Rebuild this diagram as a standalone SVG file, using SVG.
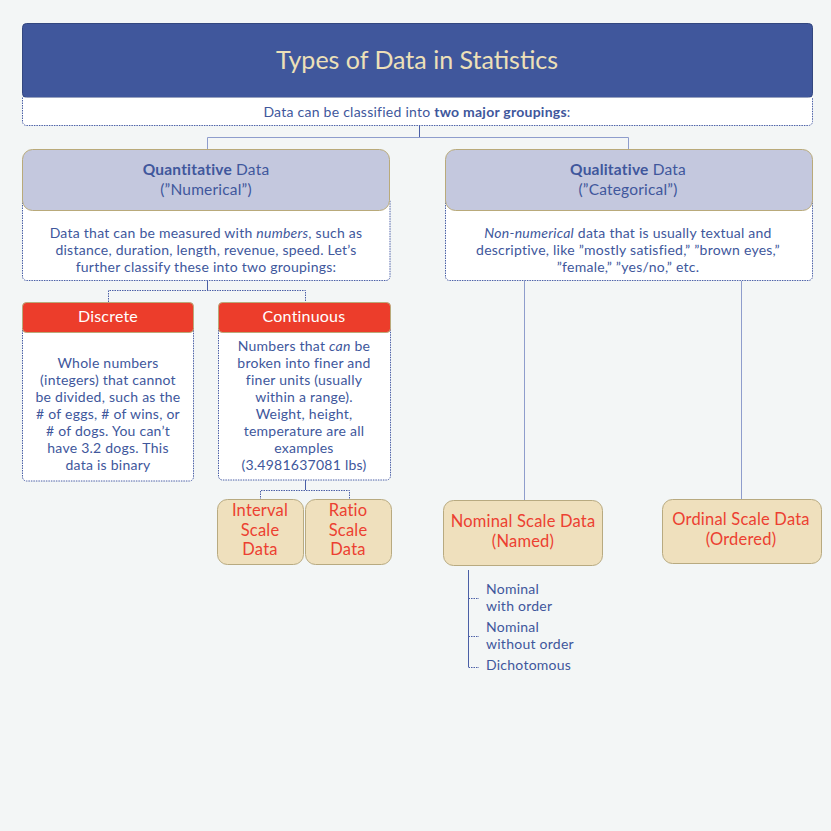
<svg xmlns="http://www.w3.org/2000/svg" width="831" height="831" viewBox="0 0 831 831">
<style>
text{font-family:Lato,"Noto Sans","Liberation Sans",sans-serif;text-anchor:middle}
.t{fill:#40579c;font-size:14px;letter-spacing:0.25px}
.h{fill:#40579c;font-size:15.5px;letter-spacing:0.2px}
.w{fill:#ffffff;font-size:16px;letter-spacing:0.2px}
.r{fill:#ec4031;font-size:16.5px;letter-spacing:0.2px}
.hdr{fill:#c4c8de;stroke:#b9aa7a;stroke-width:1}
.body{fill:#ffffff;stroke:#4a5fa6;stroke-width:1;stroke-dasharray:1.5 1}
.red{fill:#ec3d2b;stroke:#b9aa7a;stroke-width:1}
.tan{fill:#efe0bd;stroke:#b8aa80;stroke-width:1}
.c{fill:none;stroke:#4a5fa6;stroke-width:1}
.cd{fill:none;stroke:#4a5fa6;stroke-width:1;stroke-dasharray:1.5 1}
.cl{fill:none;stroke:#8e9dcc;stroke-width:1}
</style>
<rect width="831" height="831" fill="#f3f6f6"/>
<g id="connectors">
<path class="c" d="M419.5 125V137"/>
<path class="cl" d="M207.5 150V137.5H628.5V150"/>
<path class="c" d="M207.5 281V290"/>
<path class="cd" d="M108.5 302V290.5H305.5V302"/>
<path class="c" d="M305.5 480V490"/>
<path class="cd" d="M260.5 500V490.5H349.5V500"/>
<path class="cl" d="M524.5 281V500"/>
<path class="cl" d="M741.5 281V499"/>
<path class="c" d="M468.5 570V667"/>
<path class="cd" d="M468.5 598.5H479M468.5 636.5H479M468.5 667.5H479"/>
</g>
<g id="title">
<rect x="22.5" y="23.5" width="790" height="74" rx="4" fill="#40579c" stroke="#33477f"/>
<text x="417" y="69" style="fill:#ede0b8;font-size:25px">Types of Data in Statistics</text>
<path class="body" d="M22.5 97.5V121.5a4 4 0 0 0 4 4H808.5a4 4 0 0 0 4-4V97.5"/>
<text class="t" x="417" y="117">Data can be classified into <tspan font-weight="bold">two major groupings</tspan>:</text>
</g>
<g id="quantitative">
<path class="body" d="M22.5 200V276.5a4 4 0 0 0 4 4H386a4 4 0 0 0 4-4V200"/>
<rect class="hdr" x="22.5" y="149.5" width="367" height="61" rx="10"/>
<text class="h" x="206" y="175"><tspan font-weight="bold">Quantitative</tspan> Data</text>
<text class="h" x="206" y="195">(”Numerical”)</text>
<text class="t" x="206" y="238">Data that can be measured with <tspan font-style="italic">numbers</tspan>, such as</text>
<text class="t" x="206" y="255">distance, duration, length, revenue, speed.  Let’s</text>
<text class="t" x="206" y="272">further classify these into two groupings:</text>
</g>
<g id="qualitative">
<path class="body" d="M445.5 200V276.5a4 4 0 0 0 4 4H808.5a4 4 0 0 0 4-4V200"/>
<rect class="hdr" x="445.5" y="149.5" width="367" height="61" rx="10"/>
<text class="h" x="628" y="175"><tspan font-weight="bold">Qualitative</tspan> Data</text>
<text class="h" x="628" y="195">(”Categorical”)</text>
<text class="t" x="628" y="238"><tspan font-style="italic">Non-numerical</tspan> data that is usually textual and</text>
<text class="t" x="628" y="255">descriptive, like ”mostly satisfied,” ”brown eyes,”</text>
<text class="t" x="628" y="272">”female,” ”yes/no,” etc.</text>
</g>
<g id="discrete">
<path class="body" d="M22.5 325V477a4 4 0 0 0 4 4H189.5a4 4 0 0 0 4-4V325"/>
<rect class="red" x="22.5" y="302.5" width="171" height="30" rx="4"/>
<text class="w" x="108" y="322">Discrete</text>
<text class="t" x="108" y="368">Whole numbers</text>
<text class="t" x="108" y="385">(integers) that cannot</text>
<text class="t" x="108" y="402">be divided, such as the</text>
<text class="t" x="108" y="419"># of eggs, # of wins, or</text>
<text class="t" x="108" y="436"># of dogs.  You can’t</text>
<text class="t" x="108" y="453">have 3.2 dogs.  This</text>
<text class="t" x="108" y="470">data is binary</text>
</g>
<g id="continuous">
<path class="body" d="M218.5 325V476a4 4 0 0 0 4 4H386.5a4 4 0 0 0 4-4V325"/>
<rect class="red" x="218.5" y="302.5" width="172" height="30" rx="4"/>
<text class="w" x="304" y="322">Continuous</text>
<text class="t" x="304" y="351">Numbers that <tspan font-style="italic">can</tspan> be</text>
<text class="t" x="304" y="368">broken into finer and</text>
<text class="t" x="304" y="385">finer units (usually</text>
<text class="t" x="304" y="402">within a range).</text>
<text class="t" x="304" y="419">Weight, height,</text>
<text class="t" x="304" y="436">temperature are all</text>
<text class="t" x="304" y="453">examples</text>
<text class="t" x="304" y="470">(3.4981637081 lbs)</text>
</g>
<g id="interval">
<rect class="tan" x="217.5" y="499.5" width="86" height="65" rx="10"/>
<text class="r" x="260" y="516">Interval</text>
<text class="r" x="260" y="536">Scale</text>
<text class="r" x="260" y="555">Data</text>
</g>
<g id="ratio">
<rect class="tan" x="305.5" y="499.5" width="86" height="65" rx="10"/>
<text class="r" x="348" y="516">Ratio</text>
<text class="r" x="348" y="536">Scale</text>
<text class="r" x="348" y="555">Data</text>
</g>
<g id="nominal">
<rect class="tan" x="443.5" y="500.5" width="159" height="65" rx="10"/>
<text class="r" x="523" y="527">Nominal Scale Data</text>
<text class="r" x="523" y="547">(Named)</text>
</g>
<g id="ordinal">
<rect class="tan" x="662.5" y="499.5" width="159" height="64" rx="10"/>
<text class="r" x="741" y="525">Ordinal Scale Data</text>
<text class="r" x="741" y="545">(Ordered)</text>
</g>
<g id="nominal-with-order">
<text class="t" x="486" y="594" style="text-anchor:start">Nominal</text>
<text class="t" x="486" y="611" style="text-anchor:start">with order</text>
</g>
<g id="nominal-without-order">
<text class="t" x="486" y="632" style="text-anchor:start">Nominal</text>
<text class="t" x="486" y="649" style="text-anchor:start">without order</text>
</g>
<g id="dichotomous">
<text class="t" x="486" y="670" style="text-anchor:start">Dichotomous</text>
</g>
</svg>
